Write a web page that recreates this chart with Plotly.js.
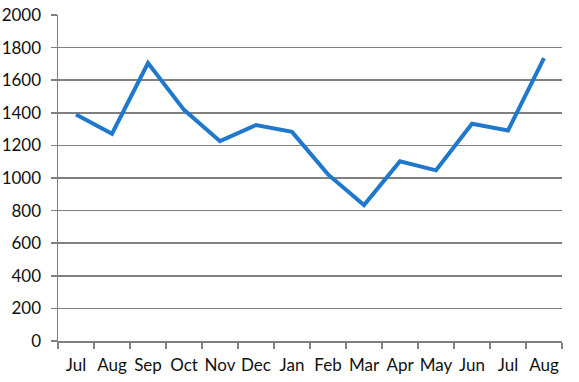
<!DOCTYPE html>
<html>
<head>
<meta charset="utf-8">
<script src="https://cdn.plot.ly/plotly-3.0.1.min.js"></script>
<style>html,body{margin:0;padding:0;background:#fff;}#chart{width:579px;height:382px;}</style>
</head>
<body>
<div id="chart"></div>
<script>
var months = ["Jul","Aug","Sep","Oct","Nov","Dec","Jan","Feb","Mar","Apr","May","Jun","Jul ","Aug "];
var tickLabels = ["Jul","Aug","Sep","Oct","Nov","Dec","Jan","Feb","Mar","Apr","May","Jun","Jul","Aug"];
var values = [1390, 1272, 1705, 1418, 1226, 1325, 1283, 1022, 834, 1103, 1047, 1333, 1292, 1735];
var yTicks = [0,200,400,600,800,1000,1200,1400,1600,1800,2000];

var trace = {
  x: months,
  y: values,
  type: "scatter",
  mode: "lines",
  line: {color: "#1f78cc", width: 4},
  hoverinfo: "skip"
};

var layout = {
  width: 579,
  height: 382,
  margin: {l: 58, r: 17, t: 15, b: 41},
  paper_bgcolor: "#fff",
  plot_bgcolor: "#fff",
  showlegend: false,
  font: {family: "Lato, sans-serif", size: 17, color: "#111"},
  xaxis: {
    type: "category",
    range: [-0.5, 13.5],
    tickvals: months,
    ticktext: tickLabels,
    tickangle: 0,
    tickson: "boundaries",
    ticks: "outside",
    ticklen: 6,
    tickcolor: "#808080",
    tickwidth: 1.5,
    ticklabelstandoff: 8,
    showline: true,
    linecolor: "#808080",
    linewidth: 1.5,
    showgrid: false,
    zeroline: false,
    fixedrange: true
  },
  yaxis: {
    range: [0, 2000],
    tickvals: yTicks,
    ticks: "outside",
    ticklen: 6,
    tickcolor: "#808080",
    tickwidth: 1.5,
    ticklabelstandoff: 6,
    showline: true,
    linecolor: "#808080",
    linewidth: 1.5,
    showgrid: true,
    gridcolor: "#808080",
    gridwidth: 1.5,
    zeroline: false,
    fixedrange: true
  }
};

Plotly.newPlot("chart", [trace], layout, {staticPlot: true, displayModeBar: false});
</script>
</body>
</html>
